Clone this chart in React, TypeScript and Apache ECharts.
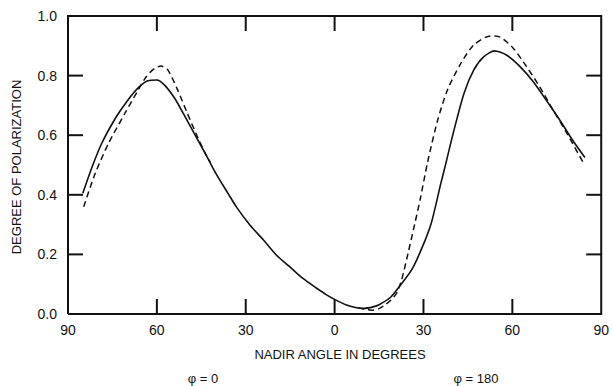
import React, { useEffect, useRef } from "react";
import * as echarts from "echarts";

// Nadir angle: negative = phi 0 side (left), positive = phi 180 side (right)
const solidX = [-85, -82, -78.6, -74, -70, -66, -63, -60, -57.4, -54, -50.8, -47.4, -44, -40, -36, -33, -28.6, -24, -19.7, -15, -10.8, -6.3, -3, 0, 4, 7, 10, 13, 15, 19, 22, 26, 29.2, 32.6, 35.9, 37, 40.3, 43.7, 47, 50.3, 54, 58, 62.6, 67, 71.4, 76, 80.3, 84.5];
const solidY = [0.405, 0.49, 0.573, 0.657, 0.715, 0.762, 0.783, 0.785, 0.768, 0.724, 0.668, 0.606, 0.545, 0.47, 0.405, 0.357, 0.299, 0.248, 0.198, 0.157, 0.12, 0.088, 0.066, 0.049, 0.03, 0.022, 0.019, 0.024, 0.031, 0.057, 0.094, 0.148, 0.215, 0.304, 0.44, 0.483, 0.617, 0.741, 0.819, 0.863, 0.883, 0.869, 0.83, 0.78, 0.718, 0.651, 0.584, 0.525];

const dashedLeftX = [-84.7, -80.8, -76.3, -70.8, -66.3, -63.6, -60.8, -58.6, -56.3, -53, -49.7, -46.3, -44, -42];
const dashedLeftY = [0.36, 0.472, 0.573, 0.673, 0.752, 0.796, 0.824, 0.832, 0.819, 0.752, 0.673, 0.595, 0.546, 0.51];

const dashedRightX = [8, 10.5, 12.6, 15, 17, 19, 20.9, 22.6, 24.8, 27, 29, 31.4, 34.8, 38.1, 42.6, 47, 52.6, 55.9, 60.3, 64.8, 69.2, 73.7, 78.1, 84.2];
const dashedRightY = [0.021, 0.015, 0.013, 0.018, 0.03, 0.047, 0.069, 0.114, 0.204, 0.3, 0.39, 0.51, 0.651, 0.752, 0.841, 0.903, 0.933, 0.929, 0.892, 0.83, 0.763, 0.685, 0.612, 0.503];

const xTicks = { min: -90, max: 90, interval: 30 };
const yTicks = { min: 0, max: 1, interval: 0.2 };
const xTickValues = [-60, -30, 0, 30, 60];
const yTickValues = [0.2, 0.4, 0.6, 0.8];

const xTitle = "NADIR ANGLE IN DEGREES";
const yTitle = "DEGREE OF POLARIZATION";
const leftNote = "φ = 0";
const rightNote = "φ = 180";

const pairs = (xs: number[], ys: number[]) => xs.map((x, i) => [x, ys[i]]);

const FONT = "Liberation Sans, Arial, sans-serif";
const INK = "#111";
const TICK_LEN = 15;

export default function App() {
  const ref = useRef<HTMLDivElement>(null);
  useEffect(() => {
    if (!ref.current) return;
    const chart = echarts.init(ref.current, null, { renderer: "svg" });

    // Frame + inward ticks drawn by a custom series through the axes' own scales
    const renderFrame = (_params: any, api: any) => {
      const [xl, yb] = api.coord([xTicks.min, yTicks.min]);
      const [xr, yt] = api.coord([xTicks.max, yTicks.max]);
      const st = { stroke: INK, lineWidth: 2, fill: null };
      const children: any[] = [
        { type: "polyline", shape: { points: [[xl, yb], [xr, yb], [xr, yt], [xl, yt], [xl, yb]] }, style: st },
      ];
      xTickValues.forEach((v) => {
        const x = api.coord([v, yTicks.min])[0];
        children.push({ type: "line", shape: { x1: x, y1: yb, x2: x, y2: yb - TICK_LEN }, style: st });
        children.push({ type: "line", shape: { x1: x, y1: yt, x2: x, y2: yt + TICK_LEN }, style: st });
      });
      yTickValues.forEach((v) => {
        const y = api.coord([xTicks.min, v])[1];
        children.push({ type: "line", shape: { x1: xl, y1: y, x2: xl + TICK_LEN, y2: y }, style: st });
        children.push({ type: "line", shape: { x1: xr, y1: y, x2: xr - TICK_LEN, y2: y }, style: st });
      });
      return { type: "group", children };
    };

    chart.setOption({
      animation: false,
      grid: { left: 68, right: 4, top: 16, bottom: 72 },
      xAxis: {
        type: "value", ...xTicks,
        axisLine: { show: false }, axisTick: { show: false }, splitLine: { show: false },
        axisLabel: { formatter: (v: number) => String(Math.abs(v)), color: INK, fontSize: 14, fontFamily: FONT, margin: 9 },
      },
      yAxis: {
        type: "value", ...yTicks,
        axisLine: { show: false }, axisTick: { show: false }, splitLine: { show: false },
        axisLabel: { formatter: (v: number) => v.toFixed(1), color: INK, fontSize: 14, fontFamily: FONT, margin: 11 },
      },
      series: [
        {
          type: "custom", renderItem: renderFrame, data: [[0, 0]], clip: false, silent: true, z: 5,
        },
        {
          type: "line", data: pairs(solidX, solidY), smooth: 0.25, showSymbol: false,
          lineStyle: { color: INK, width: 1.6 },
        },
        {
          type: "line", data: pairs(dashedLeftX, dashedLeftY), smooth: 0.25, showSymbol: false,
          lineStyle: { color: INK, width: 1.5, type: [6, 4] },
        },
        {
          type: "line", data: pairs(dashedRightX, dashedRightY), smooth: 0.25, showSymbol: false,
          lineStyle: { color: INK, width: 1.5, type: [6, 4] },
        },
      ],
      graphic: [
        { type: "text", x: 340, y: 354, style: { text: xTitle, fontSize: 13, fontFamily: FONT, fill: INK, align: "center", verticalAlign: "middle" } },
        { type: "text", x: 16, y: 167, rotation: Math.PI / 2, style: { text: yTitle, fontSize: 13, fontFamily: FONT, fill: INK, align: "center", verticalAlign: "middle" } },
        { type: "text", x: 203, y: 378, style: { text: leftNote, fontSize: 13, fontFamily: FONT, fill: INK, align: "center", verticalAlign: "middle" } },
        { type: "text", x: 476, y: 378, style: { text: rightNote, fontSize: 13, fontFamily: FONT, fill: INK, align: "center", verticalAlign: "middle" } },
      ],
    });
    return () => chart.dispose();
  }, []);
  return <div ref={ref} style={{ width: 612, height: 386, position: "absolute", left: 0, top: 0 }} />;
}
